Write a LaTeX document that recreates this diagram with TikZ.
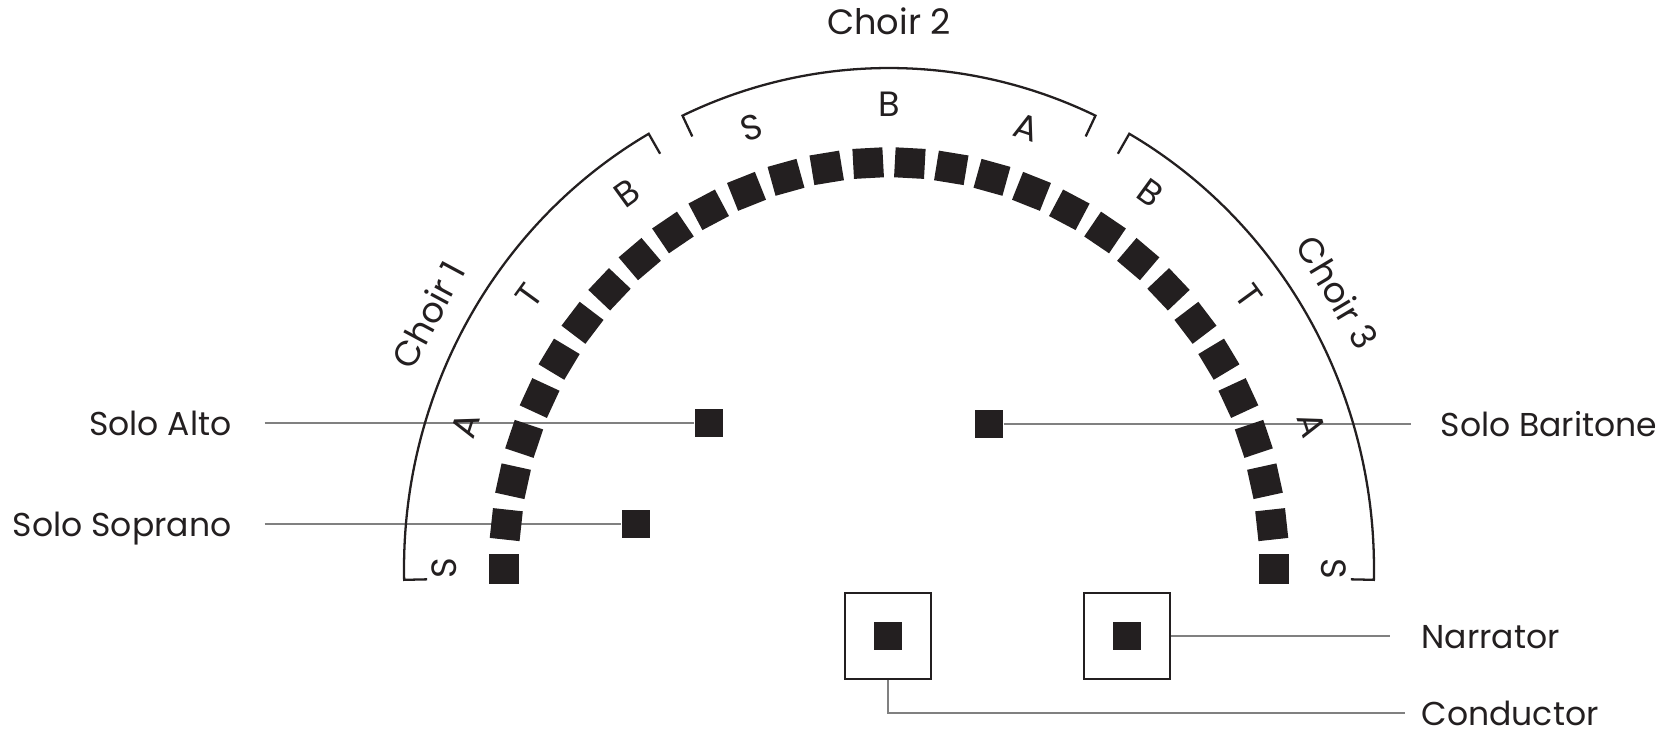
\documentclass[tikz,border=0pt]{standalone}
\usepackage{fontspec}
\setmainfont{Poppins}
\usetikzlibrary{positioning}
\definecolor{ink}{HTML}{231F20}
\definecolor{wiregray}{HTML}{808080}

\begin{document}
\begin{tikzpicture}[node distance=1.51cm,
    seat/.style={fill=ink, minimum size=0.30cm, inner sep=0pt},
    solo/.style={fill=ink, minimum size=0.28cm, inner sep=0pt},
    podium/.style={draw=ink, line width=0.6pt, minimum size=0.86cm, inner sep=0pt},
    lbl/.style={font=\fontsize{10}{12}\selectfont, text=ink, inner sep=0pt, text height=0.7em, text depth=0pt},
    role/.style={lbl, font=\fontsize{9.4}{11}\selectfont},
    wire/.style={draw=wiregray, line width=0.6pt},
    bracket/.style={draw=ink, line width=0.65pt}]
    \useasboundingbox (0,0) rectangle (16.79,7.38);

    \node[solo] (alto) at (7.09,3.15) {};
    \node[solo] (soprano) at (6.355,2.14) {};
    \node[solo] (baritone) at (9.89,3.14) {};
    \node[role, anchor=east] (altolbl) at (2.32,3.15) {Solo Alto};
    \node[role, anchor=east] (sopranolbl) at (2.32,2.14) {Solo Soprano};
    \node[role, anchor=west] (baritonelbl) at (14.40,3.14) {Solo Baritone};

    \node[podium] (conductor) at (8.88,1.02) {};
    \node[podium, right=of conductor] (narrator) {};
    \node[solo] (conductorsq) at (conductor) {};
    \node[solo] (narratorsq) at (narrator) {};
    \node[role, anchor=west] (narratorlbl) at (14.21,1.02) {Narrator};
    \node[role, anchor=west] (conductorlbl) at (14.21,0.25) {Conductor};

    \draw[wire, shorten <=0.325cm] (altolbl.east) -- (alto.west);
    \draw[wire, shorten <=0.325cm] (sopranolbl.east) -- (soprano.west);
    \draw[wire, shorten >=0.29cm] (baritone.east) -- (baritonelbl.west);
    \draw[wire, shorten >=0.31cm] (narrator.east) -- (narratorlbl.west);
    \draw[wire, shorten >=0.16cm] (conductor.south) |- (conductorlbl.west);

    \begin{scope}[shift={(8.89,1.695)}]
        % seats of the three choirs
        \foreach \i in {0,...,29} {
            \pgfmathsetmacro\t{180-\i*180/29}
            \node[seat, rotate=\t] (seat\i) at (\t:3.85cm and 4.06cm) {};
        }
        \foreach \a/\b in {181.3/119.7, 115.2/64.8, 60.3/-1.3}
            \draw[bracket] (\a:4.62cm and 4.775cm) -- (\a:4.85cm and 5.005cm)
                arc[start angle=\a, end angle=\b, x radius=4.85cm, y radius=5.005cm]
                -- (\b:4.62cm and 4.775cm);
        \foreach \t/\v in {180/S, 162/A, 144/T, 126/B, 108/S, 90/B, 72/A, 54/B, 36/T, 18/A, 0/S}
            \node[lbl, rotate=\t-90] (voice\t) at (\t:4.45cm and 4.64cm) {\v};
        \node[lbl, rotate=61.8] (choirA) at (151.8:5.22cm and 5.37cm) {Choir 1};
        \node[lbl] (choirB) at (90:5.22cm and 5.46cm) {Choir 2};
        \node[lbl, rotate=-59.1] (choirC) at (30.9:5.22cm and 5.37cm) {Choir 3};
    \end{scope}
\end{tikzpicture}
\end{document}
